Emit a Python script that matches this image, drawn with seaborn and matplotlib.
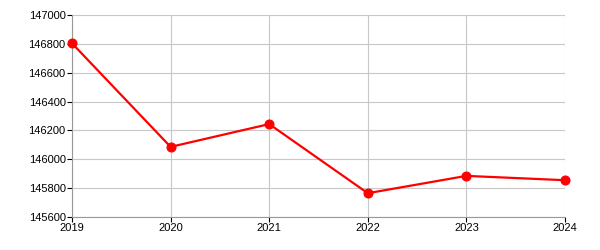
import matplotlib
matplotlib.use("Agg")
import matplotlib.pyplot as plt
import seaborn as sns
import pandas as pd

years = [2019, 2020, 2021, 2022, 2023, 2024]
values = [146804, 146086, 146244, 145765, 145885, 145855]

df = pd.DataFrame({"year": years, "value": values})

sns.set_style("white")
plt.rcParams['font.family'] = ['Liberation Sans', 'DejaVu Sans']

fig = plt.figure(figsize=(6, 2.5), dpi=100)
ax = fig.add_axes([72/600, 1-217/250, (565-72)/600, (217-15)/250])

sns.lineplot(data=df, x="year", y="value", ax=ax, color="#ff0000", linewidth=1.6,
             marker="o", markersize=6.5, markeredgecolor="#ff0000", markerfacecolor="#ff0000",
             zorder=3, clip_on=False)

ax.set_xlim(2019, 2024)
ax.set_ylim(145600, 147000)
ax.set_xticks(years)
ax.set_yticks(list(range(145600, 147001, 200)))
ax.grid(True, color="#c8c8c8", linewidth=0.8)
ax.set_axisbelow(True)
for s in ["top", "right"]:
    ax.spines[s].set_visible(False)
for s in ["left", "bottom"]:
    ax.spines[s].set_color("#999999")
    ax.spines[s].set_linewidth(0.8)
ax.tick_params(axis="both", which="both", direction="out", length=3.6, width=0.8,
               color="#000000", labelsize=8, labelcolor="#000000", pad=1, left=True, bottom=True)
ax.set_xlabel("")
ax.set_ylabel("")

fig.savefig("out.png", dpi=100)
